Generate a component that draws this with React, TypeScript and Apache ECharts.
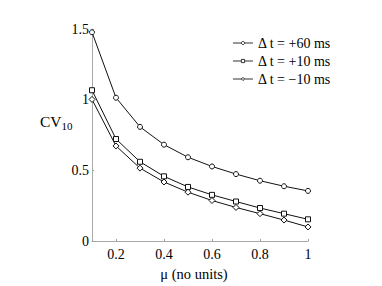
import React, { useEffect, useRef } from "react";
import * as echarts from "echarts";

const muValues = [0.1, 0.2, 0.3, 0.4, 0.5, 0.6, 0.7, 0.8, 0.9, 1.0];
const cv60 = [1.477, 1.014, 0.808, 0.682, 0.593, 0.528, 0.474, 0.427, 0.388, 0.355];
const cv10 = [1.067, 0.722, 0.561, 0.458, 0.383, 0.327, 0.28, 0.234, 0.194, 0.154];
const cvm10 = [1.002, 0.673, 0.516, 0.418, 0.346, 0.287, 0.238, 0.194, 0.149, 0.1];
const seriesNames = ["Δ t = +60 ms", "Δ t = +10 ms", "Δ t = −10 ms"];
const xTicks = [0.2, 0.4, 0.6, 0.8, 1];
const yTicks = [0, 0.5, 1, 1.5];

const FONT = "Liberation Serif";

export default function App() {
  const ref = useRef<HTMLDivElement>(null);
  useEffect(() => {
    if (!ref.current) return;
    const chart = echarts.init(ref.current, null, { renderer: "svg" });
    const mk = (name: string, vals: number[], symbol: string, size: number) => ({
      name,
      type: "line",
      data: muValues.map((m, i) => [m, vals[i]]),
      symbol,
      symbolSize: size,
      showAllSymbol: true,
      lineStyle: { color: "#111", width: 1 },
      itemStyle: { color: "#fff", borderColor: "#111", borderWidth: 1 },
      emphasis: { disabled: true },
    });
    chart.setOption({
      animation: false,
      backgroundColor: "#fff",
      textStyle: { fontFamily: FONT },
      grid: { left: 92, right: 74, top: 29, bottom: 43 },
      legend: {
        orient: "vertical",
        right: 46,
        top: 31,
        itemWidth: 20,
        itemHeight: 4,
        itemGap: 4,
        itemStyle: { color: "#fff", borderColor: "#333", borderWidth: 1 },
        lineStyle: { width: 1, color: "#333" },
        textStyle: { fontFamily: FONT, fontSize: 14, color: "#000" },
        data: seriesNames,
      },
      xAxis: {
        type: "value",
        min: 0.1,
        max: 1,
        splitLine: { show: false },
        axisLine: { lineStyle: { color: "#aaa" } },
        axisTick: { show: true, customValues: xTicks, inside: true, length: 2, lineStyle: { color: "#999" } },
        axisLabel: {
          customValues: xTicks,
          color: "#000",
          fontFamily: FONT,
          fontSize: 14,
          margin: 6,
          formatter: (v: number) => String(Math.round(v * 10) / 10),
        },
        name: "μ (no units)",
        nameLocation: "middle",
        nameGap: 21,
        nameTextStyle: { color: "#000", fontFamily: FONT, fontSize: 14.5, padding: [0, 12, 0, 0] },
      },
      yAxis: {
        type: "value",
        min: 0,
        max: 1.5,
        splitLine: { show: false },
        axisLine: { show: true, lineStyle: { color: "#aaa" } },
        axisTick: { show: true, customValues: yTicks, inside: true, length: 2, lineStyle: { color: "#999" } },
        axisLabel: {
          customValues: yTicks,
          color: "#000",
          fontFamily: FONT,
          fontSize: 14,
          margin: 3,
        },
      },
      graphic: [
        {
          type: "text",
          left: 40,
          top: 113,
          style: {
            text: "{a|CV}{b|10}",
            rich: {
              a: { fontFamily: FONT, fontSize: 15.5, fill: "#000" },
              b: { fontFamily: FONT, fontSize: 11, fill: "#000", padding: [10, 0, 0, 0] },
            },
          },
        },
      ],
      series: [
        mk(seriesNames[0], cv60, "circle", 5),
        mk(seriesNames[1], cv10, "rect", 5),
        mk(seriesNames[2], cvm10, "diamond", 6),
      ],
    });
    return () => chart.dispose();
  }, []);
  return <div ref={ref} style={{ position: "absolute", left: 0, top: 0, width: 382, height: 286 }} />;
}
